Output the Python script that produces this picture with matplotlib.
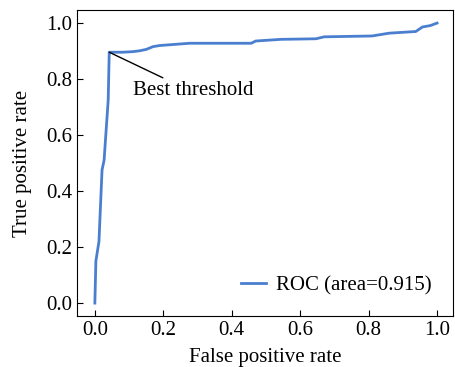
import matplotlib
matplotlib.use("Agg")
import matplotlib.pyplot as plt

plt.rcParams['font.family'] = ['Liberation Serif', 'DejaVu Serif']

# ROC curve points
fpr = [0.0, 0.003, 0.012, 0.021, 0.027, 0.039, 0.042, 0.08, 0.11, 0.13, 0.15,
       0.17, 0.19, 0.277, 0.457, 0.47, 0.544, 0.646, 0.67, 0.81, 0.86,
       0.938, 0.957, 0.98, 1.0]
tpr = [0.0, 0.15, 0.22, 0.475, 0.51, 0.725, 0.895, 0.895, 0.897, 0.90, 0.905,
       0.915, 0.919, 0.927, 0.927, 0.935, 0.941, 0.943, 0.95, 0.953, 0.963,
       0.969, 0.985, 0.99, 0.999]
best = (0.042, 0.895)
auc = 0.915

fig = plt.figure(figsize=(4.56, 3.67), dpi=100)
ax = fig.add_axes([0.169, 0.139, 0.824, 0.834])
ax.plot(fpr, tpr, color='#4a7fd0', lw=2, label='ROC (area=%.3f)' % auc)
ax.annotate('Best threshold', xy=best, xytext=(0.11, 0.76),
            ha='left', va='center', fontsize=15,
            arrowprops=dict(arrowstyle='-', color='k', lw=1,
                            relpos=(0.3, 1.0), shrinkA=0, shrinkB=0))
ax.set_xlim(-0.052, 1.046)
ax.set_ylim(-0.046, 1.046)
ax.set_xticks([0, 0.2, 0.4, 0.6, 0.8, 1.0])
ax.set_yticks([0, 0.2, 0.4, 0.6, 0.8, 1.0])
ax.tick_params(direction='in', labelsize=15, length=4)
ax.set_xlabel('False positive rate', fontsize=15, labelpad=6)
ax.set_ylabel('True positive rate', fontsize=15, labelpad=10)
ax.legend(loc='lower right', frameon=False, fontsize=15, handlelength=1.2,
          handletextpad=0.5, borderaxespad=0.6)

fig.savefig('out.png', dpi=100)
